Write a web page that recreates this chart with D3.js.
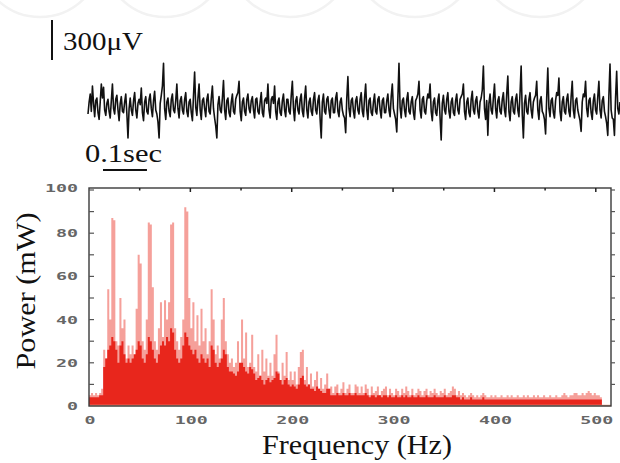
<!DOCTYPE html>
<html>
<head>
<meta charset="utf-8">
<script src="https://d3js.org/d3.v7.min.js"></script>
<style>
  body { margin: 0; background: #fff; }
  .serif { font-family: 'Liberation Serif', 'DejaVu Serif', serif; fill: #111; }
  .tick-label { font-family: 'DejaVu Sans Mono', monospace; font-weight: bold; font-size: 11px; fill: #666; }
</style>
</head>
<body>
<svg id="chart"></svg>
<script>
var width = 620, height = 463;

// raw EEG trace, microvolts
var eegValues = [
  -60, 30, 90, -40, 150, 20, -80, 40, 60, -50, -100, 30, 165, 60, 140, -30, -70, 20, 50, -40, -90, 40, 165, -20, -60, 50, 80, -30, -110, 20, 70, -40, -50, 30, 90, -60, -240, -20, 60, -30,
  -70, 40, 100, -30, -90, 20, 50, 10, 135, -50, -110, 30, 70, -40, -60, 50, 90, -20, -80, 40, 110, -30, -60, -120, -240, 20, 80, 150, 320, -20, -100, 30, 60, -40, -80, 50, 90, -30, -50, 40,
  165, -20, -90, 40, 70, -30, -60, 50, 100, -40, -80, 30, 50, -50, -110, 80, 255, -10, -70, 60, 165, -30, -100, 40, 60, -20, -80, 50, 90, -40, -60, 60, 150, -20, -90, -150, -240, 10, 70, -30,
  -50, 60, 190, -30, -100, 40, 60, -50, -80, 30, 90, -40, -60, 50, 80, 100, 185, -40, -110, 30, 60, -40, -70, 50, 90, -20, -50, 40, 70, -30, -90, 50, 60, -40, -60, 30, 100, -50, -80, 40,
  60, 20, 165, -30, -90, 50, 70, 20, 150, -40, -100, 30, 60, -50, -70, 40, 90, -30, -80, 50, 50, -40, -60, 80, 185, -20, -110, 40, 70, -30, -60, 50, 90, -40, -80, 60, 150, -30, -90, 30,
  60, -40, -70, 50, 100, -30, -60, 40, 80, -100, -240, 30, 90, -40, -60, 50, 70, -30, -90, 40, 60, -50, -50, 60, 100, -40, -80, 30, 60, -30, -70, -90, -200, 60, 220, -20, -80, 40, 60, -40,
  -90, 40, 70, -30, -60, 50, 100, -40, -80, 60, 165, -30, -100, 40, 60, -50, -70, 30, 90, -40, -60, 50, 70, -30, -90, 40, 60, -50, -50, 40, 90, -30, -80, 70, 165, -20, -60, -100, -195, 60,
  320, -10, -90, 40, 60, -30, -80, 50, 100, -40, -60, 30, 70, -50, -100, 40, 60, 90, 185, -30, -90, 50, 70, -40, -60, 40, 90, 60, 165, -40, -110, 30, 60, -50, -70, 40, 90, -90, -255, 20,
  80, -30, -60, 50, 100, -40, -90, 30, 60, -50, -70, 40, 90, -30, -60, 50, 70, 90, 165, -40, -100, 30, 60, -50, -80, 50, 110, -30, -60, 40, 70, -40, -90, 30, 60, 120, 300, -20, -100, 40,
  -220, 20, 90, -30, -60, 60, 165, -20, -90, 40, 70, -40, -60, 50, 100, -30, -80, 90, 225, -40, -110, 30, 70, -40, -60, 50, 90, -30, -80, 100, 300, -60, -240, 20, 80, -40, -60, 50, 100, -30,
  -90, 30, 60, 80, 185, -30, -100, 40, 70, -40, -60, -100, -210, 60, 285, -20, -80, 40, 60, -50, -90, 40, 100, 80, 210, -40, -110, 30, 70, -40, -60, 50, 90, -40, -80, 70, 185, -30, -90, 40,
  60, -30, -70, -110, -190, 30, 90, 70, 185, -20, -80, 40, 60, -50, -100, 40, 90, -30, -60, 70, 185, -30, -90, 40, 70, -40, -80, -130, -220, 80, 315, -30, -90, -100, -220, 60, 260, -20, -60, 30
];
var eegDuration = 1.21; // seconds shown

// power spectrum, 2 Hz bins starting at 0 Hz
var binWidth = 2;
// spiky maxima (light layer)
var peakPower = [
  5, 6, 5, 6, 5, 6, 8, 26, 22, 54,
  40, 87, 86, 30, 28, 50, 36, 40, 22, 28,
  24, 28, 22, 45, 70, 66, 30, 26, 40, 85,
  84, 55, 30, 26, 36, 48, 32, 49, 40, 48,
  84, 85, 36, 30, 26, 32, 40, 92, 90, 50,
  36, 48, 30, 42, 28, 45, 30, 36, 24, 30,
  54, 40, 24, 28, 22, 40, 50, 30, 24, 20,
  22, 18, 20, 30, 18, 40, 22, 34, 18, 20,
  33, 18, 16, 24, 14, 26, 16, 22, 14, 20,
  14, 24, 33, 16, 12, 20, 14, 25, 12, 16,
  12, 16, 10, 18, 25, 26, 12, 18, 10, 15,
  9, 12, 16, 8, 13, 8, 10, 15, 8, 9,
  6, 9, 10, 6, 8, 11, 6, 8, 10, 6,
  6, 10, 9, 6, 9, 6, 10, 8, 5, 9,
  6, 7, 9, 5, 7, 8, 9, 5, 8, 6,
  5, 8, 7, 5, 8, 6, 9, 7, 5, 8,
  5, 6, 8, 7, 5, 7, 8, 5, 7, 6,
  8, 6, 5, 7, 6, 8, 5, 6, 7, 9,
  8, 5, 7, 5, 6, 5, 4, 5, 6, 5,
  4, 5, 4, 5, 6, 5, 4, 4, 5, 4,
  5, 4, 4, 5, 4, 4, 5, 4, 5, 4,
  4, 5, 4, 4, 5, 4, 5, 4, 4, 5,
  4, 5, 4, 4, 5, 4, 4, 5, 4, 4,
  5, 4, 4, 5, 6, 5, 4, 5, 5, 6,
  6, 5, 5, 6, 5, 6, 7, 6, 5, 6, 5, 5, 4
];
// dense lower part (solid layer)
var basePower = [
  4, 4, 4, 4, 4, 5, 5, 18, 22, 26,
  28, 32, 30, 26, 20, 28, 30, 24, 20, 22,
  20, 22, 24, 26, 30, 28, 22, 20, 24, 32,
  30, 26, 22, 20, 24, 28, 30, 28, 32, 30,
  36, 34, 26, 22, 20, 22, 28, 34, 32, 28,
  26, 24, 26, 22, 20, 24, 22, 20, 22, 18,
  28, 26, 20, 18, 20, 22, 26, 24, 18, 16,
  16, 15, 14, 16, 20, 20, 18, 16, 15, 18,
  17, 15, 12, 13, 14, 12, 10, 12, 13, 11,
  12, 13, 16, 15, 12, 10, 12, 13, 10, 9,
  10, 9, 8, 10, 13, 14, 10, 9, 10, 8,
  8, 7, 9, 8, 7, 6, 6, 8, 8, 5,
  5, 5, 6, 5, 5, 6, 5, 5, 6, 5,
  5, 6, 5, 5, 5, 5, 6, 5, 4, 5,
  5, 4, 5, 5, 4, 5, 5, 4, 5, 4,
  4, 5, 4, 4, 5, 4, 5, 4, 4, 5,
  4, 4, 5, 4, 4, 4, 5, 4, 4, 4,
  5, 4, 4, 4, 4, 5, 4, 4, 4, 5,
  5, 4, 4, 3, 4, 3, 3, 3, 4, 3,
  3, 3, 3, 3, 4, 3, 3, 3, 3, 3,
  3, 3, 3, 3, 3, 3, 3, 3, 3, 3,
  3, 3, 3, 3, 3, 3, 3, 3, 3, 3,
  3, 3, 3, 3, 3, 3, 3, 3, 3, 3,
  3, 3, 3, 3, 3, 3, 3, 3, 3, 3,
  3, 3, 3, 3, 3, 3, 3, 3, 3, 3, 3, 3, 3
];

var xTicks = [0, 100, 200, 300, 400, 500];
var yTicks = [0, 20, 40, 60, 80, 100];

var svg = d3.select("#chart").attr("width", width).attr("height", height);

// faint watermark rings along the top edge
svg.append("g").selectAll("circle")
  .data([40, 165, 290, 415, 540, 665])
  .enter().append("circle")
    .attr("cx", function(d) { return d; })
    .attr("cy", -45)
    .attr("r", 62)
    .attr("fill", "none")
    .attr("stroke", "#f2f2f2")
    .attr("stroke-width", 2.5);

// ---------- EEG trace ----------
var tScale = d3.scaleLinear().domain([0, eegDuration]).range([88, 620]);
var vScale = d3.scaleLinear().domain([-300, 300]).range([146, 66]);
var dt = eegDuration / (eegValues.length - 1);

var line = d3.line()
  .x(function(d, i) { return tScale(i * dt); })
  .y(function(d) { return vScale(d); });

svg.append("path")
  .datum(eegValues)
  .attr("d", line)
  .attr("fill", "none")
  .attr("stroke", "#111")
  .attr("stroke-width", 1.6)
  .attr("stroke-linejoin", "round");

// voltage scale bar
var barLen = vScale(0) - vScale(300);
svg.append("line")
  .attr("x1", 52).attr("x2", 52)
  .attr("y1", 20).attr("y2", 20 + barLen)
  .attr("stroke", "#111").attr("stroke-width", 2);
svg.append("text").attr("class", "serif")
  .attr("x", 63).attr("y", 50)
  .attr("font-size", 26)
  .attr("textLength", 80).attr("lengthAdjust", "spacingAndGlyphs")
  .text("300\u03bcV");

// time scale bar
svg.append("text").attr("class", "serif")
  .attr("x", 85).attr("y", 162)
  .attr("font-size", 26)
  .attr("textLength", 77).attr("lengthAdjust", "spacingAndGlyphs")
  .text("0.1sec");
svg.append("line")
  .attr("x1", 103).attr("x2", 103 + tScale(0.1) - tScale(0))
  .attr("y1", 170).attr("y2", 170)
  .attr("stroke", "#111").attr("stroke-width", 2);

// ---------- spectrum ----------
var plotLeft = 89, plotRight = 611, plotTop = 188, plotBottom = 406;
var x = d3.scaleLinear().domain([0, 515]).range([plotLeft, plotRight]);
var y = d3.scaleLinear().domain([0, 100]).range([plotBottom, 190]);

function stepArea(vals) {
  return d3.area()
    .curve(d3.curveStepAfter)
    .x(function(d, i) { return x(i * binWidth); })
    .y0(plotBottom)
    .y1(function(d) { return y(d); })(vals.concat([vals[vals.length - 1]]));
}

var defs = svg.append("defs");
defs.append("filter").attr("id", "soft")
  .append("feGaussianBlur").attr("stdDeviation", 0.7);
defs.append("clipPath").attr("id", "plotClip")
  .append("rect").attr("x", plotLeft).attr("y", plotTop)
    .attr("width", plotRight - plotLeft).attr("height", plotBottom - plotTop);

var spec = svg.append("g").attr("clip-path", "url(#plotClip)");
spec.append("path")
  .attr("d", stepArea(peakPower))
  .attr("fill", "#ee5249")
  .attr("opacity", 0.55)
  .attr("filter", "url(#soft)");
spec.append("path")
  .attr("d", stepArea(basePower))
  .attr("fill", "#e8261f")
  .attr("filter", "url(#soft)");

// baseline tint
svg.append("line")
  .attr("x1", plotLeft).attr("x2", plotRight).attr("y1", plotBottom - 0.5).attr("y2", plotBottom - 0.5)
  .attr("stroke", "#e9a08a").attr("stroke-width", 1.5);

// frame
svg.append("rect")
  .attr("x", plotLeft).attr("y", plotTop)
  .attr("width", plotRight - plotLeft).attr("height", plotBottom - plotTop)
  .attr("fill", "none").attr("stroke", "#3a3a3a").attr("stroke-width", 1.4);

// top ticks (every 50 Hz, longer at 100s)
svg.append("g").selectAll("line")
  .data(d3.range(50, 515, 50))
  .enter().append("line")
    .attr("x1", function(d) { return x(d); }).attr("x2", function(d) { return x(d); })
    .attr("y1", plotTop).attr("y2", function(d) { return d % 100 === 0 ? plotTop + 4 : plotTop + 2.5; })
    .attr("stroke", "#222").attr("stroke-width", 1.5);

// left and right ticks every 10
var yMinor = d3.range(10, 101, 10);
svg.append("g").selectAll("line")
  .data(yMinor)
  .enter().append("line")
    .attr("x1", plotLeft).attr("x2", plotLeft + 5)
    .attr("y1", function(d) { return y(d); }).attr("y2", function(d) { return y(d); })
    .attr("stroke", "#555").attr("stroke-width", 1.2);
svg.append("g").selectAll("line")
  .data(yMinor)
  .enter().append("line")
    .attr("x1", plotRight).attr("x2", plotRight + 4)
    .attr("y1", function(d) { return y(d); }).attr("y2", function(d) { return y(d); })
    .attr("stroke", "#555").attr("stroke-width", 1.2);

// tick labels
svg.append("g").selectAll("text")
  .data(xTicks)
  .enter().append("text")
    .attr("class", "tick-label")
    .attr("x", function(d) { return x(d) + 1; })
    .attr("y", 424)
    .attr("text-anchor", "middle")
    .attr("textLength", function(d) { return String(d).length * 11; })
    .attr("lengthAdjust", "spacingAndGlyphs")
    .text(function(d) { return d; });

svg.append("g").selectAll("text")
  .data(yTicks)
  .enter().append("text")
    .attr("class", "tick-label")
    .attr("x", 78)
    .attr("y", function(d) { return d === 100 ? plotTop + 4 : y(d) + 4; })
    .attr("text-anchor", "end")
    .attr("textLength", function(d) { return String(d).length * 11; })
    .attr("lengthAdjust", "spacingAndGlyphs")
    .text(function(d) { return d; });

// axis titles
svg.append("text").attr("class", "serif")
  .attr("transform", "translate(35,291) rotate(-90)")
  .attr("text-anchor", "middle")
  .attr("font-size", 27)
  .attr("textLength", 157).attr("lengthAdjust", "spacingAndGlyphs")
  .text("Power (mW)");

svg.append("text").attr("class", "serif")
  .attr("x", 357).attr("y", 454)
  .attr("text-anchor", "middle")
  .attr("font-size", 27)
  .attr("textLength", 190).attr("lengthAdjust", "spacingAndGlyphs")
  .text("Frequency (Hz)");
</script>
</body>
</html>
